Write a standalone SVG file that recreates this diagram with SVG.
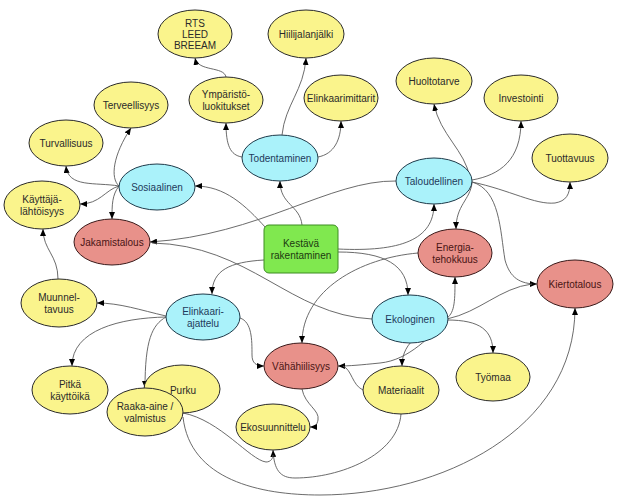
<svg xmlns="http://www.w3.org/2000/svg" width="619" height="497" viewBox="0 0 619 497">
<style>
.c path{fill:none;stroke:#5a5a5a;stroke-width:0.9}
.y{fill:#FAF48C;stroke:#2a2a2a;stroke-width:1}
.b{fill:#AAF2FA;stroke:#1e3a4a;stroke-width:1}
.r{fill:#E8918A;stroke:#3a1a1a;stroke-width:1}
.g{fill:#80E84F;stroke:#3C8C22;stroke-width:1}
text{font-family:"Liberation Sans",Arial,sans-serif;font-size:10px;text-anchor:middle}
.ty{fill:#2a2a2a}
.tb{fill:#1e3a5a}
.tr{fill:#4a1414}
.tg{fill:#1c3a10}
</style>
<defs>
<marker id="a" markerUnits="userSpaceOnUse" markerWidth="8" markerHeight="6" refX="7" refY="3" orient="auto">
<path d="M0,0 L7,3 L0,6 z" fill="#000"/>
</marker>
</defs>
<g class="c">
<path d="M226,77 C224,66 198,72 195,58" marker-end="url(#a)"/>
<path d="M242,157 C230,155 226,145 226,123" marker-end="url(#a)"/>
<path d="M318,157 C334,154 341,140 341,121" marker-end="url(#a)"/>
<path d="M282,135 C285,105 304,90 306,58" marker-end="url(#a)"/>
<path d="M119,186 C110,178 113,155 131,128" marker-end="url(#a)"/>
<path d="M119,186 C95,182 68,188 66,166" marker-end="url(#a)"/>
<path d="M119,186 C105,190 100,204 80,204" marker-end="url(#a)"/>
<path d="M119,186 C112,195 112,205 112,219" marker-end="url(#a)"/>
<path d="M266,228 C245,205 225,186 195,186" marker-end="url(#a)"/>
<path d="M302,225 C300,205 280,205 280,181" marker-end="url(#a)"/>
<path d="M396,181 C330,180 260,235 150,242" marker-end="url(#a)"/>
<path d="M338,249 C400,252 434,240 434,204" marker-end="url(#a)"/>
<path d="M338,252 C385,252 408,265 408,295" marker-end="url(#a)"/>
<path d="M264,260 C230,262 212,270 212,294" marker-end="url(#a)"/>
<path d="M372,319 C290,315 250,245 152,243"/>
<path d="M470,178 C465,150 440,135 434,104" marker-end="url(#a)"/>
<path d="M472,180 C500,175 521,160 521,121" marker-end="url(#a)"/>
<path d="M472,182 C510,190 535,205 555,203 C566,201 570,195 570,182" marker-end="url(#a)"/>
<path d="M472,183 C470,200 456,205 456,229" marker-end="url(#a)"/>
<path d="M472,182 C500,190 500,230 505,260 C510,278 520,284 537,284" marker-end="url(#a)"/>
<path d="M447,318 C455,312 455,300 455,277" marker-end="url(#a)"/>
<path d="M447,319 C480,312 500,288 532,284"/>
<path d="M447,320 C480,320 493,330 493,353" marker-end="url(#a)"/>
<path d="M447,321 C425,330 402,340 402,366" marker-end="url(#a)"/>
<path d="M447,321 C430,335 410,360 380,363 C360,365 350,366 338,366" marker-end="url(#a)"/>
<path d="M363,390 C352,385 352,370 343,366"/>
<path d="M401,414 C398,455 340,478 295,478 C280,478 274,470 273,450" marker-end="url(#a)"/>
<path d="M302,389 C305,405 320,410 318,420 C317,425 315,427 310,427" marker-end="url(#a)"/>
<path d="M240,318 C252,322 252,340 252,355 C252,363 256,366 264,366" marker-end="url(#a)"/>
<path d="M418,253 C360,258 302,290 302,343" marker-end="url(#a)"/>
<path d="M166,316 C140,310 120,303 97,303" marker-end="url(#a)"/>
<path d="M166,317 C120,318 72,330 72,366" marker-end="url(#a)"/>
<path d="M166,317 C152,325 145,340 145,388" marker-end="url(#a)"/>
<path d="M58,279 C58,255 43,250 43,229" marker-end="url(#a)"/>
<path d="M183,413 C220,420 250,460 266,462 C271,462 273,458 273,455"/>
<path d="M183,417 C190,480 260,495 320,495 C440,495 575,430 575,308" marker-end="url(#a)"/>
</g>
<g id="rts"><ellipse class="y" cx="195" cy="34" rx="37" ry="24"/><text class="ty" x="195" y="27">RTS<tspan x="195" dy="11">LEED</tspan><tspan x="195" dy="11">BREEAM</tspan></text></g>
<g id="hiilijalanjalki"><ellipse class="y" cx="306" cy="34" rx="38" ry="24"/><text class="ty" x="306" y="37.5">Hiilijalanjälki</text></g>
<g id="ymparisto"><ellipse class="y" cx="226" cy="100" rx="37" ry="23"/><text class="ty" x="226" y="97.5">Ympäristö-<tspan x="226" dy="12">luokitukset</tspan></text></g>
<g id="terveellisyys"><ellipse class="y" cx="131" cy="105" rx="37" ry="23"/><text class="ty" x="131" y="108.5">Terveellisyys</text></g>
<g id="turvallisuus"><ellipse class="y" cx="66" cy="143" rx="37" ry="23"/><text class="ty" x="66" y="146.5">Turvallisuus</text></g>
<g id="todentaminen"><ellipse class="b" cx="280" cy="158" rx="38" ry="23"/><text class="tb" x="280" y="161.5">Todentaminen</text></g>
<g id="elinkaarimittarit"><ellipse class="y" cx="341" cy="98" rx="37" ry="23"/><text class="ty" x="341" y="101.5">Elinkaarimittarit</text></g>
<g id="huoltotarve"><ellipse class="y" cx="434" cy="81" rx="38" ry="23"/><text class="ty" x="434" y="84.5">Huoltotarve</text></g>
<g id="investointi"><ellipse class="y" cx="521" cy="98" rx="37" ry="23"/><text class="ty" x="521" y="101.5">Investointi</text></g>
<g id="tuottavuus"><ellipse class="y" cx="570" cy="158" rx="38" ry="24"/><text class="ty" x="570" y="161.5">Tuottavuus</text></g>
<g id="sosiaalinen"><ellipse class="b" cx="157" cy="187" rx="38" ry="23"/><text class="tb" x="157" y="190.5">Sosiaalinen</text></g>
<g id="taloudellinen"><ellipse class="b" cx="434" cy="181" rx="38" ry="23"/><text class="tb" x="434" y="184.5">Taloudellinen</text></g>
<g id="kayttaja"><ellipse class="y" cx="42" cy="205" rx="38" ry="24"/><text class="ty" x="42" y="202.5">Käyttäjä-<tspan x="42" dy="12">lähtöisyys</tspan></text></g>
<g id="jakamistalous"><ellipse class="r" cx="112" cy="242" rx="38" ry="23"/><text class="tr" x="112" y="245.5">Jakamistalous</text></g>
<g id="kestava"><rect class="g" x="264" y="225" width="74" height="48" rx="5"/><text class="tg" x="301" y="246.5">Kestävä<tspan x="301" dy="12">rakentaminen</tspan></text></g>
<g id="energia"><ellipse class="r" cx="455" cy="253" rx="37" ry="24"/><text class="tr" x="455" y="250.5">Energia-<tspan x="455" dy="12">tehokkuus</tspan></text></g>
<g id="kiertotalous"><ellipse class="r" cx="575" cy="284" rx="38" ry="24"/><text class="tr" x="575" y="287.5">Kiertotalous</text></g>
<g id="ekologinen"><ellipse class="b" cx="410" cy="319" rx="38" ry="24"/><text class="tb" x="410" y="322.5">Ekologinen</text></g>
<g id="muunneltavuus"><ellipse class="y" cx="59" cy="303" rx="38" ry="24"/><text class="ty" x="59" y="300.5">Muunnel-<tspan x="59" dy="12">tavuus</tspan></text></g>
<g id="elinkaariajattelu"><ellipse class="b" cx="203" cy="317" rx="37" ry="23"/><text class="tb" x="203" y="314.5">Elinkaari-<tspan x="203" dy="12">ajattelu</tspan></text></g>
<g id="vahahiilisyys"><ellipse class="r" cx="301" cy="366" rx="37" ry="23"/><text class="tr" x="301" y="369.5">Vähähiilisyys</text></g>
<g id="pitka"><ellipse class="y" cx="70" cy="390" rx="38" ry="24"/><text class="ty" x="70" y="387.5">Pitkä<tspan x="70" dy="12">käyttöikä</tspan></text></g>
<g id="purku"><ellipse class="y" cx="182" cy="389" rx="38" ry="24"/><text class="ty" x="183" y="393.5">Purku</text></g>
<g id="raaka"><ellipse class="y" cx="145" cy="412" rx="38" ry="24"/><text class="ty" x="145" y="409.5">Raaka-aine /<tspan x="145" dy="12">valmistus</tspan></text></g>
<g id="ekosuunnittelu"><ellipse class="y" cx="273" cy="427" rx="37" ry="23"/><text class="ty" x="273" y="430.5">Ekosuunnittelu</text></g>
<g id="materiaalit"><ellipse class="y" cx="401" cy="390" rx="38" ry="24"/><text class="ty" x="401" y="393.5">Materiaalit</text></g>
<g id="tyomaa"><ellipse class="y" cx="493" cy="377" rx="37" ry="24"/><text class="ty" x="493" y="380.5">Työmaa</text></g>
</svg>
